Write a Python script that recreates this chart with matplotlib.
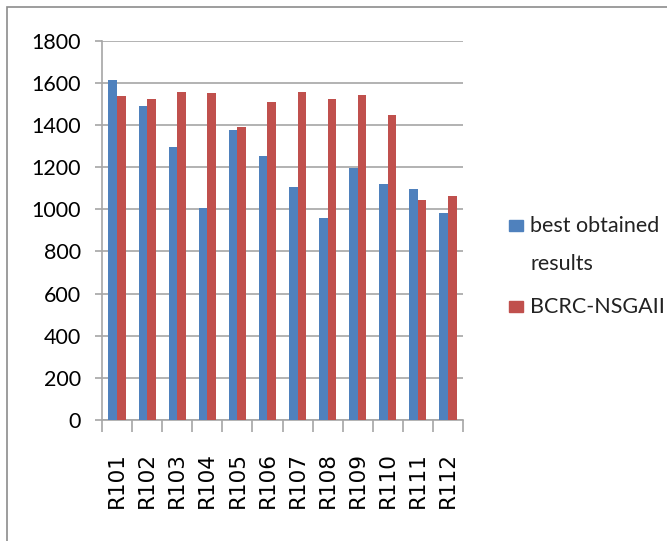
import numpy as np
import matplotlib.pyplot as plt
from matplotlib.patches import Rectangle

# Instance names and route costs for the two methods
instances = ["R101", "R102", "R103", "R104", "R105", "R106",
             "R107", "R108", "R109", "R110", "R111", "R112"]
best_obtained = [1612, 1488, 1295, 1007, 1378, 1254,
                 1105, 960, 1197, 1120, 1096, 982]
bcrc_nsgaii = [1536, 1523, 1557, 1550, 1392, 1511,
               1557, 1523, 1542, 1447, 1044, 1064]

BLUE = "#4F81BD"
RED = "#C0504D"
GRID = "#A6A6A6"

fig = plt.figure(figsize=(6.67, 5.41), dpi=100)
ax = fig.add_axes([102 / 667, 1 - 420 / 541, (463 - 102) / 667, (420 - 40.7) / 541])

x = np.arange(len(instances))
w = 0.285
ax.bar(x - w / 2, best_obtained, w, color=BLUE, zorder=3)
ax.bar(x + w / 2, bcrc_nsgaii, w, color=RED, zorder=3)

ax.set_xlim(-0.5, len(instances) - 0.5)
ax.set_ylim(0, 1800)
ax.set_yticks(range(0, 1801, 200))
ax.yaxis.grid(True, color=GRID, linewidth=1.2, zorder=0)

for side in ("top", "right"):
    ax.spines[side].set_visible(False)
for side in ("left", "bottom"):
    ax.spines[side].set_color(GRID)
    ax.spines[side].set_linewidth(1.2)

ax.tick_params(axis="y", length=5, width=1.2, color=GRID, pad=10,
               labelsize=15.5, labelfontfamily="Lato")
ax.set_xticks(x)
ax.set_xticklabels(instances, rotation=90, fontsize=15.5, family="DejaVu Sans")
ax.tick_params(axis="x", length=0, pad=23)
ax.set_xticks(np.arange(-0.5, len(instances)), minor=True)
ax.tick_params(axis="x", which="minor", length=8.5, width=1.2, color=GRID)

# Legend drawn beside the plot
def legend_entry(y_px, color, lines):
    fig.add_artist(Rectangle((509 / 667, 1 - (y_px + 5) / 541), 14 / 667, 11 / 541,
                             transform=fig.transFigure, color=color))
    for i, t in enumerate(lines):
        fig.text(530 / 667, 1 - (y_px + i * 38) / 541, t, fontsize=15.5,
                 family="Lato", va="center", ha="left", color="#222222")

legend_entry(226, BLUE, ["best obtained", "results"])
legend_entry(307, RED, ["BCRC-NSGAII"])

# Outer chart border
fig.add_artist(Rectangle((7 / 667, -0.01), 1.1, 1 - 7 / 541 + 0.01,
                         transform=fig.transFigure, fill=False,
                         edgecolor="#8C8C8C", linewidth=1.2))

fig.savefig("out.png", dpi=100)
